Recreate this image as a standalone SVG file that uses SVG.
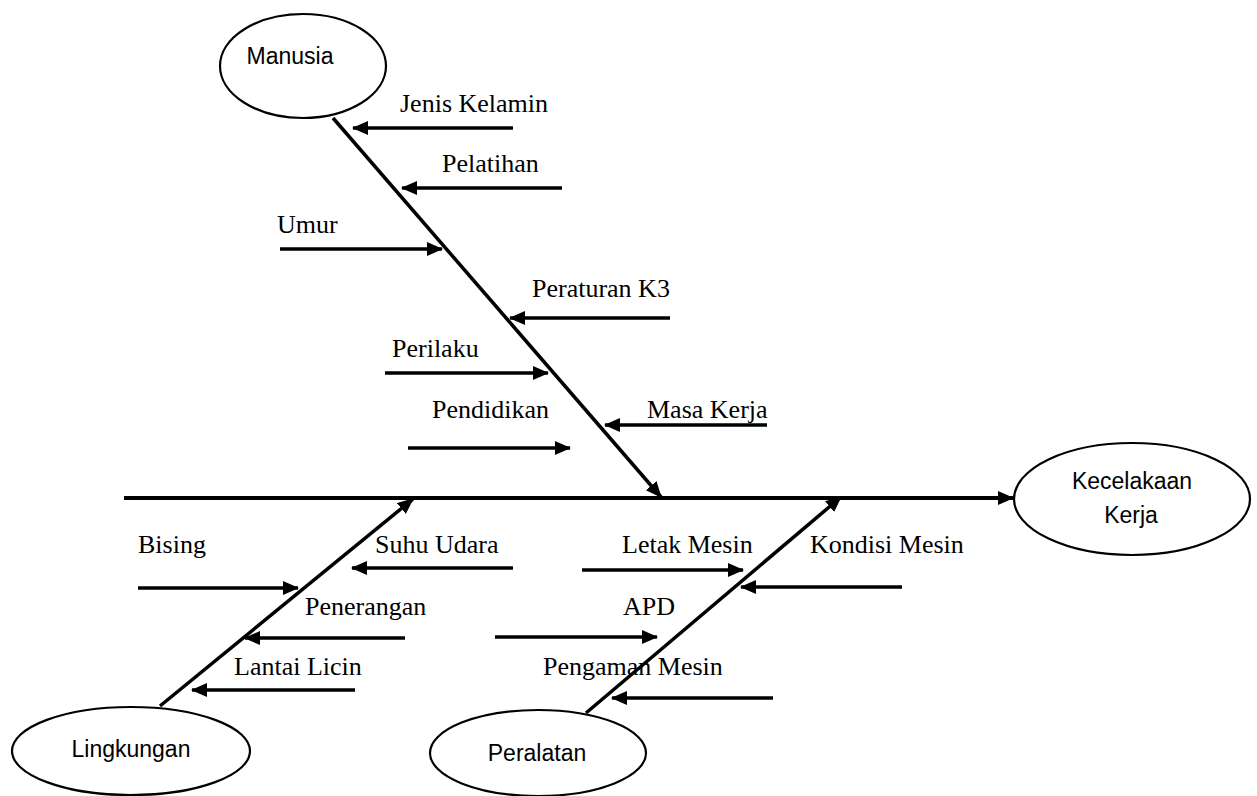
<svg xmlns="http://www.w3.org/2000/svg" width="1257" height="796" viewBox="0 0 1257 796">
<style>
.n ellipse{fill:#fff;stroke:#000;stroke-width:2.2}
.nt{font-family:"Liberation Sans",Arial,sans-serif;font-size:23px;fill:#000}
.c line{stroke:#000;stroke-width:3.5;marker-end:url(#ah)}
.c line.s{stroke-width:3.8}
.lb{font-family:"Liberation Serif","Times New Roman",serif;font-size:26px;fill:#000}
</style>
<defs>
<marker id="ah" markerUnits="userSpaceOnUse" markerWidth="18" markerHeight="16" refX="15" refY="7" orient="auto">
<path d="M0,0 L16,7 L0,14 z" fill="#000"/>
</marker>
</defs>
<rect width="1257" height="796" fill="#fff"/>
<g class="c" id="connectors">
<line class="s" x1="124" y1="498" x2="1013" y2="498"/>
<line x1="333" y1="118" x2="661" y2="497"/>
<line x1="160" y1="706" x2="413" y2="499"/>
<line x1="586" y1="713" x2="841" y2="497"/>
<line x1="513" y1="128" x2="353" y2="128"/>
<line x1="562" y1="188" x2="402" y2="188"/>
<line x1="280" y1="249" x2="442" y2="249"/>
<line x1="670" y1="318" x2="510" y2="318"/>
<line x1="385" y1="373" x2="548" y2="373"/>
<line x1="408" y1="448" x2="570" y2="448"/>
<line x1="767" y1="425" x2="605" y2="425"/>
<line x1="138" y1="588" x2="298" y2="588"/>
<line x1="513" y1="568" x2="352" y2="568"/>
<line x1="405" y1="638" x2="245" y2="638"/>
<line x1="355" y1="690" x2="192" y2="690"/>
<line x1="582" y1="570" x2="743" y2="570"/>
<line x1="902" y1="587" x2="741" y2="587"/>
<line x1="495" y1="637" x2="657" y2="637"/>
<line x1="773" y1="698" x2="612" y2="698"/>
</g>
<g id="labels" class="lb">
<text x="400" y="112">Jenis Kelamin</text>
<text x="442" y="172">Pelatihan</text>
<text x="277" y="233">Umur</text>
<text x="532" y="297">Peraturan K3</text>
<text x="392" y="357">Perilaku</text>
<text x="432" y="418">Pendidikan</text>
<text x="647" y="418">Masa Kerja</text>
<text x="138" y="553">Bising</text>
<text x="375" y="553">Suhu Udara</text>
<text x="305" y="615">Penerangan</text>
<text x="234" y="675">Lantai Licin</text>
<text x="622" y="553">Letak Mesin</text>
<text x="810" y="553">Kondisi Mesin</text>
<text x="623" y="615">APD</text>
<text x="543" y="675">Pengaman Mesin</text>
</g>
<g id="manusia" class="n">
<ellipse cx="303" cy="66" rx="83" ry="52"/>
<text class="nt" x="290" y="64" text-anchor="middle">Manusia</text>
</g>
<g id="kecelakaan" class="n">
<ellipse cx="1132" cy="499" rx="118" ry="56"/>
<text class="nt" x="1132" y="489" text-anchor="middle">Kecelakaan</text>
<text class="nt" x="1131" y="523" text-anchor="middle">Kerja</text>
</g>
<g id="lingkungan" class="n">
<ellipse cx="131" cy="751" rx="119" ry="44"/>
<text class="nt" x="131" y="757" text-anchor="middle">Lingkungan</text>
</g>
<g id="peralatan" class="n">
<ellipse cx="538" cy="753" rx="108" ry="43"/>
<text class="nt" x="537" y="761" text-anchor="middle">Peralatan</text>
</g>
</svg>
